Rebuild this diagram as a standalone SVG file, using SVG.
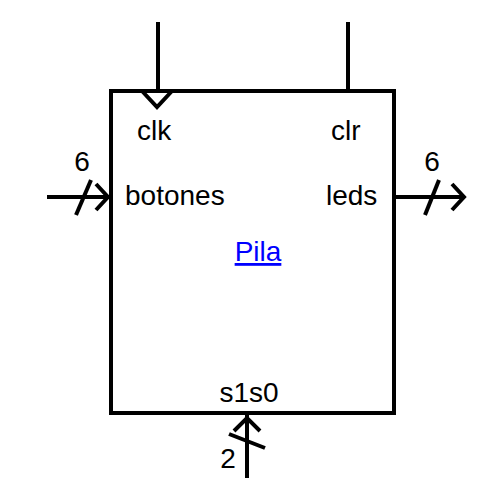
<svg xmlns="http://www.w3.org/2000/svg" width="500" height="500" viewBox="0 0 500 500">
<style>
.ln{stroke:#000;stroke-width:4;fill:none}
.t{font-family:"Liberation Sans",Arial,sans-serif;font-size:28px;fill:#000}
</style>
<rect width="500" height="500" fill="#fff"/>
<g id="connectors">
<line class="ln" x1="158" y1="22" x2="158" y2="91"/>
<line class="ln" x1="348" y1="22" x2="348" y2="91"/>
<line class="ln" x1="47" y1="197" x2="111" y2="197"/>
<polyline class="ln" points="96,184 108,197 96,210"/>
<line class="ln" x1="76" y1="215" x2="91" y2="180"/>
<line class="ln" x1="394" y1="197" x2="463" y2="197"/>
<polyline class="ln" points="452,184 464,197 452,210"/>
<line class="ln" x1="425" y1="215" x2="439" y2="180"/>
<line class="ln" x1="247" y1="413" x2="247" y2="478"/>
<polyline class="ln" points="234,431 247,418 260,431"/>
<line class="ln" x1="229" y1="434" x2="265" y2="448"/>
</g>
<g id="pila">
<rect class="ln" x="111" y="91" width="283" height="322"/>
<polyline class="ln" points="142,91 157,107 172,91"/>
<text class="t" x="137" y="140">clk</text>
<text class="t" x="331" y="140">clr</text>
<text class="t" x="125" y="205">botones</text>
<text class="t" x="326" y="205">leds</text>
<text class="t" x="258" y="261" text-anchor="middle" style="fill:#0000ff;text-decoration:underline">Pila</text>
<text class="t" x="249" y="402" text-anchor="middle">s1s0</text>
</g>
<g id="labels">
<text class="t" x="82" y="171" text-anchor="middle">6</text>
<text class="t" x="432" y="171" text-anchor="middle">6</text>
<text class="t" x="228" y="468" text-anchor="middle">2</text>
</g>
</svg>
